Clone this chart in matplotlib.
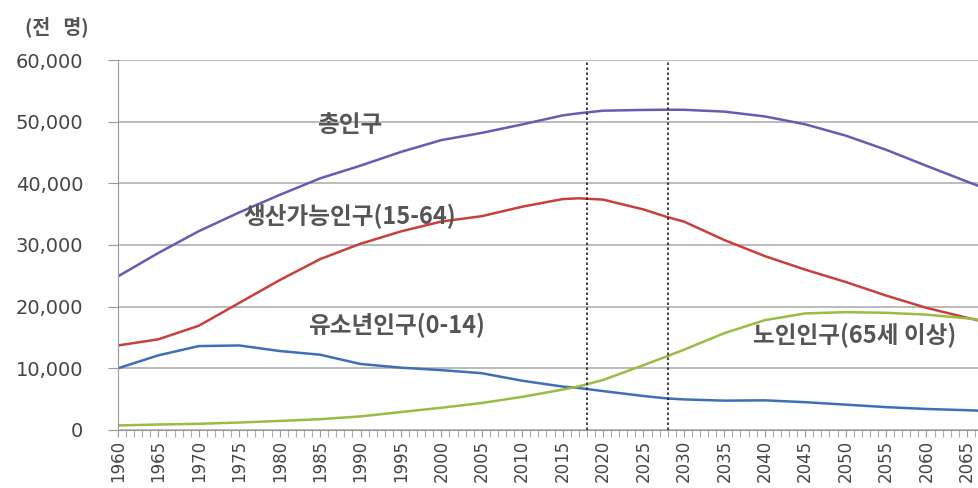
import matplotlib
matplotlib.use("Agg")
import matplotlib.pyplot as plt
from matplotlib.ticker import MultipleLocator, FuncFormatter

plt.rcParams['font.family'] = ['Noto Sans CJK KR', 'DejaVu Sans']

# 연도별 인구 (천 명)
years = [1960, 1965, 1970, 1975, 1980, 1985, 1990, 1995, 2000, 2005, 2010, 2015,
         2017, 2020, 2025, 2028, 2030, 2035, 2040, 2045, 2050, 2055, 2060, 2065, 2067]
total = [24900, 28705, 32241, 35281, 38124, 40806, 42869, 45093, 47008, 48185, 49554, 51015,
         51362, 51781, 51905, 51942, 51927, 51631, 50855, 49574, 47744, 45446, 42838, 40293, 39300]
working = [13700, 14700, 16900, 20600, 24300, 27700, 30200, 32200, 33800, 34671, 36209, 37444,
           37572, 37358, 35763, 34500, 33800, 30800, 28200, 26000, 24000, 21800, 19800, 18200, 17600]
youth = [10000, 12100, 13600, 13700, 12800, 12200, 10700, 10100, 9700, 9200, 7979, 7030,
         6800, 6300, 5500, 5100, 4950, 4750, 4800, 4500, 4100, 3700, 3400, 3200, 3100]
elderly = [726, 880, 991, 1200, 1456, 1742, 2195, 2900, 3600, 4367, 5366, 6541,
           7066, 8100, 10500, 12000, 13000, 15700, 17800, 18900, 19100, 19000, 18700, 18100, 17800]

marker_years = [2018, 2028]

fig = plt.figure(figsize=(9.79, 4.88), dpi=100)
ax = fig.add_axes([0.1205, 0.119, 0.8795, 0.758])

ax.plot(years, total, color="#6A5BB2", linewidth=1.8)
ax.plot(years, working, color="#C8403C", linewidth=1.8)
ax.plot(years, youth, color="#3F6FB5", linewidth=1.8)
ax.plot(years, elderly, color="#9BBB45", linewidth=1.8)

for yr in marker_years:
    ax.axvline(yr, color="#222222", linestyle=(0, (1.5, 1.5)), linewidth=1.2)

ax.set_xlim(1960, 2066.5)
ax.set_ylim(0, 60000)
ax.yaxis.set_major_locator(MultipleLocator(10000))
ax.yaxis.set_major_formatter(FuncFormatter(lambda v, p: f"{int(v):,}"))
ax.xaxis.set_major_locator(MultipleLocator(5))
ax.xaxis.set_minor_locator(MultipleLocator(1))
ax.xaxis.set_major_formatter(FuncFormatter(lambda v, p: f"{int(v)}"))

ax.grid(axis="y", color="#BBBBBB", linewidth=1.4)
ax.set_axisbelow(True)
for side in ["top", "right"]:
    ax.spines[side].set_visible(False)
ax.spines["left"].set_color("#999999")
ax.spines["bottom"].set_color("#999999")

ax.tick_params(axis="y", length=7, color="#999999", labelsize=14, labelcolor="#444444", pad=18)
ax.tick_params(axis="x", which="both", length=5, color="#999999", direction="out")
ax.tick_params(axis="x", labelsize=12, labelrotation=90, labelcolor="#444444", pad=2)
for lbl in ax.get_xticklabels() + ax.get_yticklabels():
    lbl.set_family("DejaVu Sans")

note = dict(fontsize=17, fontweight="bold", color="#555555", va="center")
ax.text(1988.6, 49400, "총인구", ha="center", **note)
ax.text(1988.6, 34600, "생산가능인구(15-64)", ha="center", **note)
ax.text(1994.5, 17000, "유소년인구(0-14)", ha="center", **note)
ax.text(2038.5, 15400, "노인인구(65세 이상)", ha="left", clip_on=False, **note)

fig.text(0.026, 0.945, "(전   명)", fontsize=14, fontweight="bold", ha="left", va="center",
         color="#555555")

fig.savefig("out.png", dpi=100, facecolor="white")
